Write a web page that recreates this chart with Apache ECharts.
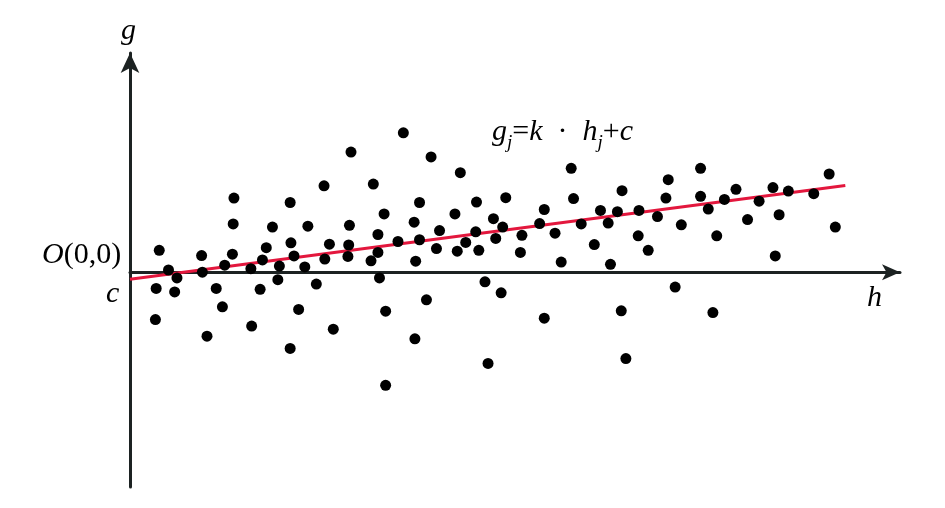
<!DOCTYPE html>
<html>
<head>
<meta charset="utf-8">
<script src="https://cdn.jsdelivr.net/npm/echarts@6/dist/echarts.min.js"></script>
<style>
html,body{margin:0;padding:0;background:#fff;}
#chart{width:945px;height:508px;}
</style>
</head>
<body>
<div id="chart"></div>
<script>
// Sample points (h, g), in chart units
const hValues = [3.8,5.0,6.1,3.4,5.8,3.3,9.3,9.4,10.0,11.2,12.0,13.5,13.4,13.3,12.3,15.7,15.8,16.9,17.2,17.7,
  18.5,20.8,20.9,21.3,19.4,19.2,21.9,20.8,22.7,23.1,24.2,25.2,25.9,25.3,26.4,28.7,28.5,28.4,28.3,31.6,
  33.0,32.2,32.2,31.3,32.4,33.2,33.2,35.5,39.1,42.9,37.6,34.8,36.9,37.6,37.1,38.5,37.0,40.2,39.8,42.2,
  45.0,43.6,42.5,44.9,45.3,46.1,48.2,46.5,47.2,48.4,47.5,48.8,50.9,50.7,53.2,53.8,55.2,56.0,53.8,57.3,
  57.6,58.6,61.1,60.3,62.1,63.3,62.4,63.9,63.8,64.4,69.9,69.6,66.1,68.5,66.0,67.3,71.6,70.8,74.1,74.1,
  75.1,76.2,75.7,77.2,78.7,80.2,81.7,83.5,84.3,83.8,85.5,88.8,90.8,91.6];
const gValues = [5.0,0.5,-1.3,-3.7,-4.5,-10.8,3.8,0.0,-14.6,-3.7,-7.9,16.9,11.0,4.1,1.6,0.8,-12.3,-3.9,2.8,5.6,
  10.3,15.9,6.7,3.7,1.4,-1.7,-8.5,-17.4,1.2,10.5,-2.7,19.7,6.4,3.0,-13.0,27.4,10.7,6.2,3.6,20.1,
  13.3,8.6,4.5,2.6,-1.3,-8.9,-25.8,31.8,26.3,22.7,15.9,7.0,11.4,7.4,2.5,-6.3,-15.2,9.5,5.4,13.3,
  16.0,6.8,4.8,9.2,5.0,-2.2,-4.7,-20.8,12.2,10.3,7.7,17.0,8.4,4.5,11.1,14.3,8.9,2.3,-10.5,23.7,
  16.8,11.0,14.1,6.3,11.2,13.8,1.8,18.6,-8.8,-19.7,21.1,16.9,14.1,12.7,8.3,5.0,10.8,-3.4,23.7,17.3,
  14.4,8.3,-9.2,16.6,18.9,12.0,16.2,19.3,13.1,3.7,18.5,17.9,22.4,10.3];
// Fitted line g = k*h + c, endpoints
const fitH = [0, 92.9];
const fitG = [-1.6, 19.8];

const points = hValues.map((h, i) => [h, gValues[i]]);
const fitLine = fitH.map((h, i) => [h, fitG[i]]);

const chart = echarts.init(document.getElementById('chart'));
const serif = 'Liberation Serif';
const axisColor = '#1c2222';
const it = (size) => ({ fontFamily: serif, fontStyle: 'italic', fontSize: size, fill: '#000' });
const up = (size) => ({ fontFamily: serif, fontStyle: 'normal', fontSize: size, fill: '#000' });

chart.setOption({
  animation: false,
  backgroundColor: '#ffffff',
  grid: { left: 130, right: 45, top: 53, bottom: 21 },
  xAxis: {
    type: 'value', min: 0, max: 100,
    axisLine: { onZero: true, lineStyle: { color: axisColor, width: 3 },
      symbol: ['none', 'arrow'], symbolSize: [12, 18] },
    axisTick: { show: false }, axisLabel: { show: false }, splitLine: { show: false }
  },
  yAxis: {
    type: 'value', min: -49, max: 50,
    axisLine: { onZero: true, lineStyle: { color: axisColor, width: 3 },
      symbol: ['none', 'arrow'], symbolSize: [14, 20] },
    axisTick: { show: false }, axisLabel: { show: false }, splitLine: { show: false }
  },
  series: [
    {
      type: 'line', data: fitLine, symbol: 'none', z: 2,
      lineStyle: { color: '#e3173d', width: 3 }
    },
    {
      type: 'scatter', data: points, symbol: 'circle', symbolSize: 11, z: 3,
      itemStyle: { color: '#000000', opacity: 1 }
    }
  ],
  graphic: [
    { type: 'text', left: 121, top: 16, style: Object.assign({ text: 'g' }, it(30)) },
    { type: 'text', left: 867, top: 283, style: Object.assign({ text: 'h' }, it(30)) },
    { type: 'text', left: 106, top: 279, style: Object.assign({ text: 'c' }, it(30)) },
    { type: 'text', left: 42, top: 240, style: {
        text: '{i|O}{n|(0,0)}',
        rich: { i: it(30), n: up(30) } } },
    { type: 'text', left: 492, top: 117, style: {
        text: '{i|g}{s|j}{n|=}{i|k}{n|  ·  }{i|h}{s|j}{n|+}{i|c}',
        rich: {
          i: Object.assign({ lineHeight: 40, verticalAlign: 'middle' }, it(30)),
          n: Object.assign({ lineHeight: 40, verticalAlign: 'middle' }, up(30)),
          s: Object.assign({ lineHeight: 18, verticalAlign: 'bottom' }, it(19))
        } } }
  ]
});
</script>
</body>
</html>
